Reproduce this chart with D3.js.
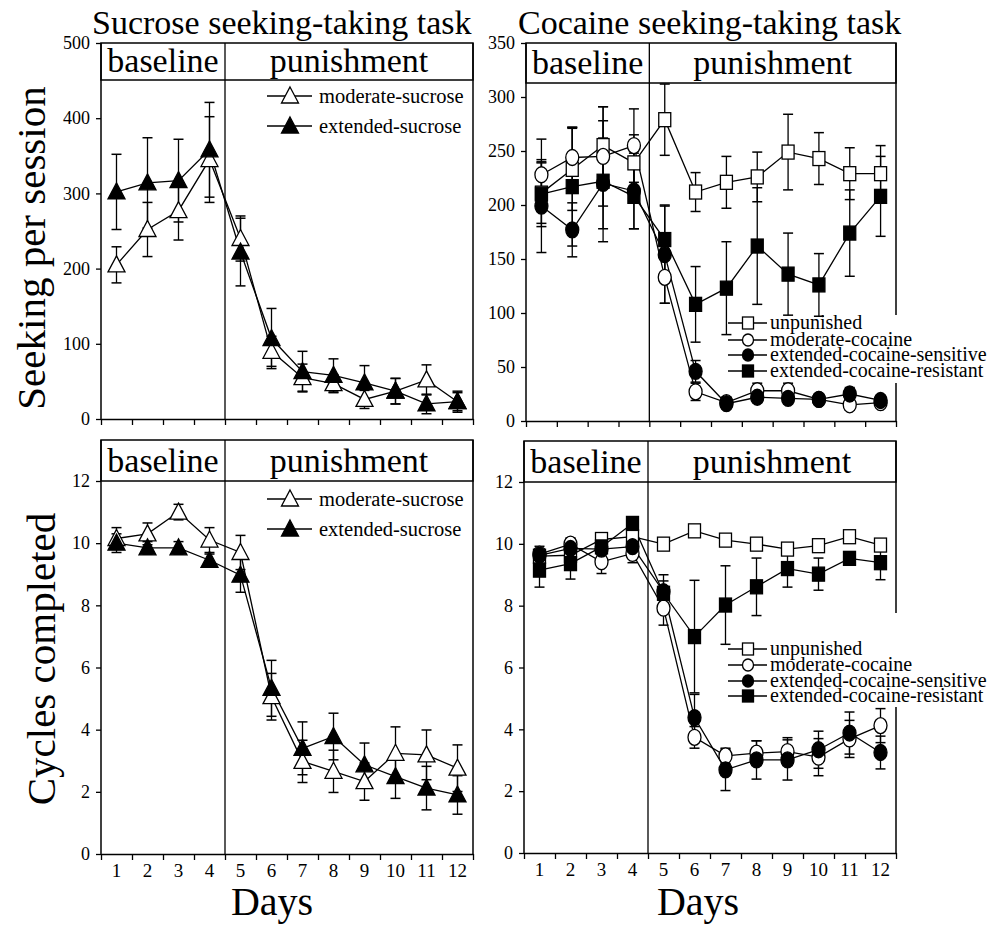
<!DOCTYPE html>
<html>
<head>
<meta charset="utf-8">
<script src="https://cdn.jsdelivr.net/npm/d3@7"></script>
<style>
  html, body { margin: 0; padding: 0; background: #fff; }
  svg { display: block; }
  text { font-family: "Liberation Serif", "Times New Roman", serif; fill: #000; }
</style>
</head>
<body>
<svg id="chart" width="1003" height="925"></svg>
<script>
const days = [1, 2, 3, 4, 5, 6, 7, 8, 9, 10, 11, 12];
const dayBounds = [0.5, 1.5, 2.5, 3.5, 4.5, 5.5, 6.5, 7.5, 8.5, 9.5, 10.5, 11.5, 12.5];

// sucrose seeking per session
const sucSeekModerate    = [205, 252, 277, 345, 240, 90, 55, 47, 26, 37, 52, 23];
const sucSeekModerateErr = [24, 36, 39, 57, 30, 20, 18, 12, 12, 17, 20, 12];
const sucSeekExtended    = [302, 314, 317, 358, 222, 107, 63, 58, 48, 37, 20, 23];
const sucSeekExtendedErr = [50, 60, 55, 63, 45, 40, 27, 22, 23, 17, 13, 14];

// cocaine seeking per session
const cocSeekUnpunished    = [211, 233, 255, 239, 279, 212, 221, 226, 249, 243, 229, 229];
const cocSeekUnpunishedErr = [28, 38, 36, 26, 33, 18, 24, 23, 35, 24, 24, 26];
const cocSeekModerate      = [228, 244, 245, 255, 133, 27, 17, 28, 28, 20, 15, 17];
const cocSeekModerateErr   = [33, 28, 46, 34, 24, 8, 5, 7, 7, 4, 5, 4];
const cocSeekSensitive     = [199, 177, 220, 213, 154, 46, 16, 22, 21, 20, 25, 19];
const cocSeekSensitiveErr  = [43, 25, 42, 35, 45, 10, 4, 5, 5, 4, 6, 4];
const cocSeekResistant     = [210, 217, 222, 208, 168, 108, 123, 162, 136, 126, 174, 208];
const cocSeekResistantErr  = [30, 55, 56, 30, 32, 35, 43, 54, 38, 29, 40, 37];

// sucrose cycles completed
const sucCycModerate    = [10.15, 10.3, 11.0, 10.1, 9.7, 5.06, 2.98, 2.66, 2.33, 3.24, 3.19, 2.76];
const sucCycModerateErr = [0.35, 0.35, 0.25, 0.4, 0.55, 0.75, 0.68, 0.68, 0.6, 0.85, 0.8, 0.75];
const sucCycExtended    = [10.0, 9.85, 9.85, 9.45, 8.97, 5.33, 3.4, 3.78, 2.87, 2.49, 2.12, 1.9];
const sucCycExtendedErr = [0.3, 0.2, 0.2, 0.2, 0.55, 0.9, 0.85, 0.75, 0.7, 0.7, 0.7, 0.62];

// cocaine cycles completed
const cocCycUnpunished    = [9.6, 9.63, 10.14, 10.23, 9.99, 10.42, 10.12, 9.99, 9.83, 9.94, 10.23, 9.96];
const cocCycUnpunishedErr = [0.2, 0.2, 0.15, 0.25, 0.1, 0.12, 0.15, 0.12, 0.12, 0.15, 0.12, 0.15];
const cocCycModerate      = [9.67, 9.99, 9.42, 9.69, 7.92, 3.74, 3.14, 3.23, 3.28, 3.1, 3.69, 4.12];
const cocCycModerateErr   = [0.25, 0.2, 0.38, 0.3, 0.55, 0.35, 0.25, 0.4, 0.45, 0.6, 0.6, 0.55];
const cocCycSensitive     = [9.63, 9.85, 9.83, 9.91, 8.45, 4.38, 2.69, 3.01, 3.01, 3.34, 3.88, 3.25];
const cocCycSensitiveErr  = [0.2, 0.2, 0.25, 0.3, 0.55, 0.75, 0.67, 0.62, 0.65, 0.6, 0.68, 0.53];
const cocCycResistant     = [9.15, 9.36, 9.9, 10.66, 8.4, 7.0, 8.02, 8.61, 9.2, 9.02, 9.53, 9.39];
const cocCycResistantErr  = [0.55, 0.5, 0.3, 0.2, 0.4, 1.82, 1.27, 0.93, 0.6, 0.52, 0.2, 0.55];

const sucLabels = ['moderate-sucrose', 'extended-sucrose'];
const cocLabels = ['unpunished', 'moderate-cocaine', 'extended-cocaine-sensitive', 'extended-cocaine-resistant'];

const svg = d3.select('#chart');

function mkSeries(label, vals, errs, shape, filled) {
  return { label: label, shape: shape, filled: filled,
           pts: days.map((d, i) => ({ day: d, v: vals[i], e: errs[i] })) };
}

function drawMarker(g, shape, filled, cx, cy, small) {
  const fill = filled ? '#000' : '#fff';
  if (shape === 'tri') {
    g.append('path')
      .attr('d', 'M0,-9L8.5,7L-8.5,7Z')
      .attr('transform', 'translate(' + cx + ',' + cy + ')')
      .attr('fill', fill).attr('stroke', '#000').attr('stroke-width', 1.3);
  } else if (shape === 'circ') {
    g.append('ellipse')
      .attr('cx', cx).attr('cy', cy)
      .attr('rx', small ? 5.5 : 6.5).attr('ry', small ? 6 : 8)
      .attr('fill', fill).attr('stroke', '#000').attr('stroke-width', 1.3);
  } else {
    const w = small ? 11 : 12, h = small ? 12 : 14;
    g.append('rect')
      .attr('x', cx - w / 2).attr('y', cy - h / 2)
      .attr('width', w).attr('height', h)
      .attr('fill', fill).attr('stroke', '#000').attr('stroke-width', 1.3);
  }
}

function panel(cfg) {
  const g = svg.append('g');
  const x = d3.scaleLinear().domain([0.5, 12.5]).range([cfg.x0, cfg.x1]);
  const y = d3.scaleLinear().domain([0, cfg.yMax]).range([cfg.yBottom, cfg.yScaleTop]);

  // y axis
  const ya = g.append('g')
    .attr('transform', 'translate(' + cfg.x0 + ',0)')
    .call(d3.axisLeft(y).tickValues(d3.range(0, cfg.yMax + 0.001, cfg.yStep))
      .tickSize(5).tickSizeOuter(0).tickPadding(6).tickFormat(d3.format('d')));
  ya.selectAll('text').attr('font-size', 18).style('font-family', '"Liberation Serif", serif');
  ya.select('.domain').remove();

  // x axis, ticks between days
  const xa = g.append('g')
    .attr('transform', 'translate(0,' + cfg.yBottom + ')')
    .call(d3.axisBottom(x).tickValues(dayBounds).tickSize(6).tickSizeOuter(0).tickFormat(''));
  xa.select('.domain').attr('stroke-width', 1.5);
  if (cfg.dayLabels) {
    g.append('g').selectAll('text').data(days).enter().append('text')
      .attr('x', d => x(d)).attr('y', cfg.yBottom + 23)
      .attr('text-anchor', 'middle').attr('font-size', 19)
      .text(d => d);
  }
  g.selectAll('.tick line').attr('stroke-width', 1.3);

  // frame lines
  g.append('line').attr('x1', cfg.x0).attr('x2', cfg.x0).attr('y1', cfg.yTop).attr('y2', cfg.yBottom)
    .attr('stroke', '#000').attr('stroke-width', 1.5);
  g.append('line').attr('x1', cfg.x1).attr('x2', cfg.x1).attr('y1', cfg.yTop).attr('y2', cfg.yBottom)
    .attr('stroke', '#000').attr('stroke-width', 1.5);
  g.append('line').attr('x1', x(4.5)).attr('x2', x(4.5)).attr('y1', cfg.yTop).attr('y2', cfg.yBottom)
    .attr('stroke', '#000').attr('stroke-width', 1.3);
  g.append('rect').attr('x', cfg.x0).attr('y', cfg.yTop)
    .attr('width', cfg.x1 - cfg.x0).attr('height', cfg.headBottom - cfg.yTop)
    .attr('fill', 'none').attr('stroke', '#000').attr('stroke-width', 1.5);
  g.append('text').attr('x', (cfg.x0 + x(4.5)) / 2).attr('y', cfg.headText)
    .attr('text-anchor', 'middle').attr('font-size', 34).text('baseline');
  g.append('text').attr('x', (x(4.5) + cfg.x1) / 2).attr('y', cfg.headText)
    .attr('text-anchor', 'middle').attr('font-size', 34).text('punishment');

  const line = d3.line().x(d => x(d.day)).y(d => y(d.v));

  // white box under the legend (it hides the frame)
  if (cfg.legendBox) {
    g.append('rect').attr('x', cfg.legendBox[0]).attr('y', cfg.legendBox[1])
      .attr('width', cfg.legendBox[2]).attr('height', cfg.legendBox[3]).attr('fill', '#fff');
  }

  cfg.series.forEach(s => {
    g.append('path').datum(s.pts).attr('d', line)
      .attr('fill', 'none').attr('stroke', '#000').attr('stroke-width', 1.3);
  });
  cfg.series.forEach(s => {
    const eb = g.append('g');
    s.pts.forEach(p => {
      const xx = x(p.day), hi = y(p.v + p.e), lo = y(p.v - p.e);
      eb.append('line').attr('x1', xx).attr('x2', xx).attr('y1', hi).attr('y2', lo)
        .attr('stroke', '#000').attr('stroke-width', 1.3);
      [hi, lo].forEach(yy => eb.append('line').attr('x1', xx - 5).attr('x2', xx + 5)
        .attr('y1', yy).attr('y2', yy).attr('stroke', '#000').attr('stroke-width', 1.5));
    });
  });
  cfg.series.forEach(s => {
    const mg = g.append('g');
    s.pts.forEach(p => drawMarker(mg, s.shape, s.filled, x(p.day), y(p.v), false));
  });

  // legend
  const lg = cfg.legend;
  cfg.series.forEach((s, i) => {
    const ly = lg.y[i];
    g.append('line').attr('x1', lg.x0).attr('x2', lg.x1).attr('y1', ly).attr('y2', ly)
      .attr('stroke', '#000').attr('stroke-width', 1.3);
    drawMarker(g, s.shape, s.filled, lg.xm, ly, lg.small);
    g.append('text').attr('x', lg.xt).attr('y', ly).attr('dy', '0.32em')
      .attr('font-size', lg.fs).text(s.label);
  });
}

panel({
  x0: 101, x1: 473, yTop: 43, headBottom: 80, yScaleTop: 43, yBottom: 419, headText: 72,
  yMax: 500, yStep: 100, dayLabels: false,
  series: [
    mkSeries(sucLabels[0], sucSeekModerate, sucSeekModerateErr, 'tri', false),
    mkSeries(sucLabels[1], sucSeekExtended, sucSeekExtendedErr, 'tri', true)
  ],
  legend: { x0: 267, x1: 312, xm: 290, xt: 319, y: [96, 126], small: false, fs: 20.5 }
});

panel({
  x0: 526, x1: 896, yTop: 43, headBottom: 83, yScaleTop: 43, yBottom: 421, headText: 74,
  yMax: 350, yStep: 50, dayLabels: false,
  legendBox: [729, 315, 274, 68],
  series: [
    mkSeries(cocLabels[0], cocSeekUnpunished, cocSeekUnpunishedErr, 'sq', false),
    mkSeries(cocLabels[1], cocSeekModerate, cocSeekModerateErr, 'circ', false),
    mkSeries(cocLabels[3], cocSeekResistant, cocSeekResistantErr, 'sq', true),
    mkSeries(cocLabels[2], cocSeekSensitive, cocSeekSensitiveErr, 'circ', true)
  ],
  legend: { x0: 728, x1: 767, xm: 748, xt: 770, y: [323, 340, 371, 355], small: true, fs: 20 }
});

panel({
  x0: 101, x1: 473, yTop: 440, headBottom: 481, yScaleTop: 481, yBottom: 854, headText: 472,
  yMax: 12, yStep: 2, dayLabels: true,
  series: [
    mkSeries(sucLabels[0], sucCycModerate, sucCycModerateErr, 'tri', false),
    mkSeries(sucLabels[1], sucCycExtended, sucCycExtendedErr, 'tri', true)
  ],
  legend: { x0: 267, x1: 312, xm: 290, xt: 319, y: [499, 529], small: false, fs: 20.5 }
});

panel({
  x0: 524, x1: 896, yTop: 441, headBottom: 482, yScaleTop: 482, yBottom: 853, headText: 473,
  yMax: 12, yStep: 2, dayLabels: true,
  legendBox: [729, 613, 274, 94],
  series: [
    mkSeries(cocLabels[0], cocCycUnpunished, cocCycUnpunishedErr, 'sq', false),
    mkSeries(cocLabels[1], cocCycModerate, cocCycModerateErr, 'circ', false),
    mkSeries(cocLabels[3], cocCycResistant, cocCycResistantErr, 'sq', true),
    mkSeries(cocLabels[2], cocCycSensitive, cocCycSensitiveErr, 'circ', true)
  ],
  legend: { x0: 728, x1: 767, xm: 748, xt: 770, y: [649, 665, 696, 681], small: true, fs: 20 }
});

// titles
svg.append('text').attr('x', 92).attr('y', 34).attr('font-size', 34).text('Sucrose seeking-taking task');
svg.append('text').attr('x', 518).attr('y', 34).attr('font-size', 34).text('Cocaine seeking-taking task');

svg.append('text').attr('transform', 'translate(45,248) rotate(-90)')
  .attr('text-anchor', 'middle').attr('font-size', 41).text('Seeking per session');
svg.append('text').attr('transform', 'translate(55,659) rotate(-90)')
  .attr('text-anchor', 'middle').attr('font-size', 41).text('Cycles completed');

svg.append('text').attr('x', 272).attr('y', 915).attr('text-anchor', 'middle').attr('font-size', 40).text('Days');
svg.append('text').attr('x', 698).attr('y', 915).attr('text-anchor', 'middle').attr('font-size', 40).text('Days');
</script>
</body>
</html>
